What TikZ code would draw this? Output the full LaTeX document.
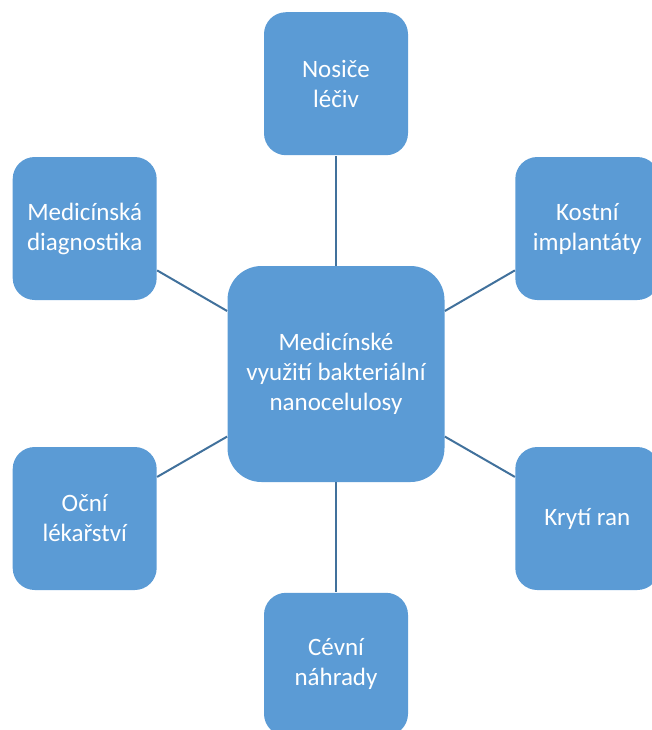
\documentclass[tikz,border=0pt]{standalone}
\usepackage{fontspec}
\setmainfont{Carlito}
\usetikzlibrary{positioning}
\definecolor{boxblue}{HTML}{5B9BD5}
\definecolor{lineblue}{HTML}{41719C}
\tikzstyle{topic} = [fill=boxblue, rounded corners=11pt, text=white, align=center, minimum width=72pt, minimum height=71.5pt, font=\fontsize{12.5}{15}\selectfont]
\tikzstyle{hub} = [topic, rounded corners=17pt, minimum width=108.5pt, minimum height=108pt]
\tikzstyle{link} = [draw=lineblue, line width=1pt]

\begin{document}
\begin{tikzpicture}[x=0.5pt, y=-0.5pt]
    \useasboundingbox (0,0) rectangle (652,730);

    \node[hub] (hub) at (336,374) {Medicínské\\ využití bakteriální\\ nanocelulosy};

    \node[topic, above=55pt of hub] (carriers) {Nosiče\\ léčiv};
    \node[topic, below=55pt of hub] (vessels) {Cévní\\ náhrady};
    \node[topic, left=35pt of hub, yshift=72.75pt] (diagnostics) {Medicínská\\ diagnostika};
    \node[topic, left=35pt of hub, yshift=-72.25pt] (ocular) {Oční\\ lékařství};
    \node[topic, right=35pt of hub, yshift=72.75pt] (implants) {Kostní\\ implantáty};
    \node[topic, right=35pt of hub, yshift=-72.25pt] (wounds) {Krytí ran};

    \draw[link] (hub) -- (carriers);
    \draw[link] (hub) -- (vessels);
    \draw[link] (hub) -- (diagnostics);
    \draw[link] (hub) -- (ocular);
    \draw[link] (hub) -- (implants);
    \draw[link] (hub) -- (wounds);

\end{tikzpicture}
\end{document}
